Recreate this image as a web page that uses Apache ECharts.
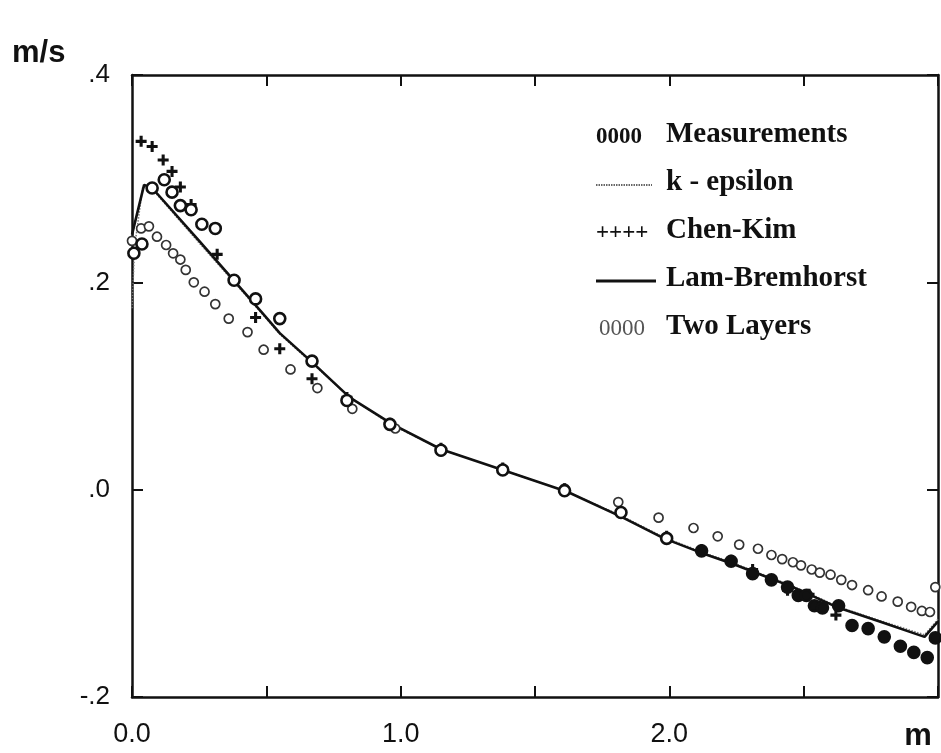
<!DOCTYPE html>
<html>
<head>
<meta charset="utf-8">
<script src="https://cdn.jsdelivr.net/npm/echarts@6/dist/echarts.min.js"></script>
<style>html,body{margin:0;padding:0;background:#fff}#c{width:941px;height:753px}</style>
</head>
<body>
<div id="c"></div>
<script>
// ---- data (x in m, y in m/s) ----
const measurements = [[0.007,0.228],[0.037,0.237],[0.075,0.291],[0.12,0.299],[0.149,0.287],[0.18,0.274],[0.22,0.27],[0.26,0.256],[0.31,0.252],[0.38,0.202],[0.46,0.184],[0.55,0.165],[0.67,0.124],[0.80,0.086],[0.96,0.063],[1.15,0.038],[1.38,0.019],[1.61,-0.001],[1.82,-0.022],[1.99,-0.047],[2.12,-0.059],[2.23,-0.069],[2.31,-0.081],[2.38,-0.087],[2.44,-0.094],[2.48,-0.102],[2.51,-0.102],[2.54,-0.112],[2.57,-0.114],[2.63,-0.112],[2.68,-0.131],[2.74,-0.134],[2.80,-0.142],[2.86,-0.151],[2.91,-0.157],[2.96,-0.162],[2.99,-0.143]];
const kEpsilon = [[0,0.175],[0.01,0.235],[0.04,0.292],[0.075,0.290],[0.25,0.238],[0.48,0.171],[0.55,0.150],[0.67,0.122],[0.81,0.089],[0.97,0.062],[1.15,0.039],[1.38,0.019],[1.62,-0.002],[1.82,-0.025],[1.98,-0.046],[2.12,-0.060],[2.23,-0.070],[2.31,-0.078],[2.46,-0.093],[2.63,-0.113],[2.78,-0.126],[2.95,-0.140],[3.0,-0.125]];
const chenKim = [[0.034,0.336],[0.075,0.331],[0.116,0.318],[0.149,0.307],[0.18,0.292],[0.22,0.275],[0.317,0.227],[0.46,0.166],[0.55,0.136],[0.67,0.107],[0.80,0.089],[0.96,0.064],[1.15,0.040],[1.38,0.021],[1.61,0.001],[1.82,-0.022],[1.99,-0.045],[2.12,-0.058],[2.23,-0.068],[2.31,-0.077],[2.44,-0.097],[2.52,-0.101],[2.56,-0.112],[2.62,-0.121]];
const lamBremhorst = [[0,0.246],[0.045,0.294],[0.075,0.291],[0.25,0.240],[0.48,0.172],[0.55,0.151],[0.67,0.123],[0.81,0.089],[0.97,0.063],[1.15,0.039],[1.38,0.019],[1.62,-0.002],[1.82,-0.026],[1.98,-0.047],[2.12,-0.061],[2.23,-0.071],[2.31,-0.079],[2.46,-0.094],[2.63,-0.114],[2.78,-0.127],[2.95,-0.142],[3.0,-0.127]];
const twoLayers = [[0.0,0.24],[0.034,0.252],[0.063,0.254],[0.093,0.244],[0.127,0.236],[0.153,0.228],[0.18,0.222],[0.20,0.212],[0.23,0.200],[0.27,0.191],[0.31,0.179],[0.36,0.165],[0.43,0.152],[0.49,0.135],[0.59,0.116],[0.69,0.098],[0.82,0.078],[0.98,0.059],[1.15,0.037],[1.38,0.020],[1.61,0.001],[1.81,-0.012],[1.96,-0.027],[2.09,-0.037],[2.18,-0.045],[2.26,-0.053],[2.33,-0.057],[2.38,-0.063],[2.42,-0.067],[2.46,-0.070],[2.49,-0.073],[2.53,-0.077],[2.56,-0.080],[2.60,-0.082],[2.64,-0.087],[2.68,-0.092],[2.74,-0.097],[2.79,-0.103],[2.85,-0.108],[2.90,-0.113],[2.94,-0.117],[2.97,-0.118],[2.99,-0.094]];
const seriesNames = ['Measurements','k - epsilon','Chen-Kim','Lam-Bremhorst','Two Layers'];
const legendMarks = ['0000','','++++','','0000'];
const xTickLabels = {0:'0.0',1:'1.0',2:'2.0'};
const yUnit = 'm/s';
const xUnit = 'm';

const chart = echarts.init(document.getElementById('c'), null, {renderer:'canvas'});
const axisCol = '#111';
const sansFont = '"Liberation Sans", Arial, sans-serif';
const serifFont = '"Liberation Serif", "Times New Roman", serif';
const plusPath = 'path://M3.6,0 h2.8 v3.6 h3.6 v2.8 h-3.6 v3.6 h-2.8 v-3.6 h-3.6 v-2.8 h3.6 z';

const legendX = 596, legendTextX = 666, legendY0 = 135, legendDy = 48;
const graphics = [
  {type:'text', x:12, y:53, style:{text:yUnit, font:'bold 31px ' + sansFont, fill:'#111', verticalAlign:'middle'}},
  {type:'text', x:918, y:736, style:{text:xUnit, font:'bold 31px ' + sansFont, fill:'#111', align:'center', verticalAlign:'middle'}}
];
seriesNames.forEach((n,i)=>{
  const y = legendY0 + i*legendDy;
  graphics.push({type:'text', x:legendTextX, y:y, style:{text:n, font:'bold 29px ' + serifFont, fill:'#111', verticalAlign:'middle'}});
  if (i===1) {
    graphics.push({type:'line', shape:{x1:legendX, y1:y+2, x2:652, y2:y+2}, style:{stroke:'#666', lineWidth:2, lineDash:[1.5,1]}});
  } else if (i===3) {
    graphics.push({type:'line', shape:{x1:legendX, y1:y+2, x2:656, y2:y+2}, style:{stroke:'#111', lineWidth:3}});
  } else {
    graphics.push({type:'text', x:legendX + (i===4?3:0), y:y+2, style:{text:legendMarks[i], font:(i===4?'':'bold ') + '23px ' + serifFont, fill:(i===4?'#555':'#111'), verticalAlign:'middle'}});
  }
});

const option = {
  animation:false,
  backgroundColor:'#fff',
  grid:{left:132, right:3, top:75, bottom:56, containLabel:false},
  xAxis:[{
    type:'value', min:0, max:3, interval:0.5, position:'bottom',
    axisLine:{show:true, onZero:false, lineStyle:{color:axisCol, width:2.5}},
    axisTick:{show:true, inside:true, length:11, lineStyle:{color:axisCol, width:2}},
    axisLabel:{show:true, margin:24, fontSize:27, fontFamily:sansFont, color:'#111',
      formatter:v=> (xTickLabels[v] !== undefined ? xTickLabels[v] : '')},
    splitLine:{show:false}
  },{
    type:'value', min:0, max:3, interval:0.5, position:'top',
    axisLine:{show:true, onZero:false, lineStyle:{color:axisCol, width:2.5}},
    axisTick:{show:true, inside:true, length:11, lineStyle:{color:axisCol, width:2}},
    axisLabel:{show:false}, splitLine:{show:false}
  }],
  yAxis:[{
    type:'value', min:-0.2, max:0.4, interval:0.2, position:'left',
    axisLine:{show:true, onZero:false, lineStyle:{color:axisCol, width:2.5}},
    axisTick:{show:true, inside:true, length:11, lineStyle:{color:axisCol, width:2}},
    axisLabel:{show:true, margin:22, fontSize:26, fontFamily:sansFont, color:'#111',
      formatter:v=> v.toFixed(1).replace('0.', '.')},
    splitLine:{show:false}
  },{
    type:'value', min:-0.2, max:0.4, interval:0.2, position:'right',
    axisLine:{show:true, onZero:false, lineStyle:{color:axisCol, width:2.5}},
    axisTick:{show:true, inside:true, length:11, lineStyle:{color:axisCol, width:2}},
    axisLabel:{show:false}, splitLine:{show:false}
  }],
  graphic:graphics,
  series:[
    {name:seriesNames[1], type:'line', data:kEpsilon, showSymbol:false, symbol:'none',
      lineStyle:{color:'#777', width:1.5, type:[1.5,1.5]}, z:2},
    {name:seriesNames[3], type:'line', data:lamBremhorst, showSymbol:false, symbol:'none',
      lineStyle:{color:'#111', width:2.6}, z:3},
    {name:seriesNames[4], type:'scatter', data:twoLayers, symbol:'circle', symbolSize:9,
      itemStyle:{color:'#fff', borderColor:'#333', borderWidth:1.7, opacity:1}, z:4},
    {name:seriesNames[2], type:'scatter', data:chenKim, symbol:plusPath, symbolSize:11,
      itemStyle:{color:'#111', opacity:1}, z:5},
    {name:seriesNames[0], type:'scatter', data:measurements, symbol:'circle', symbolSize:11,
      itemStyle:{color:p=> (p.value[0] > 2.0 ? '#111' : '#fff'), borderColor:'#111', borderWidth:2.6, opacity:1}, z:6}
  ]
};
chart.setOption(option);
</script>
</body>
</html>
